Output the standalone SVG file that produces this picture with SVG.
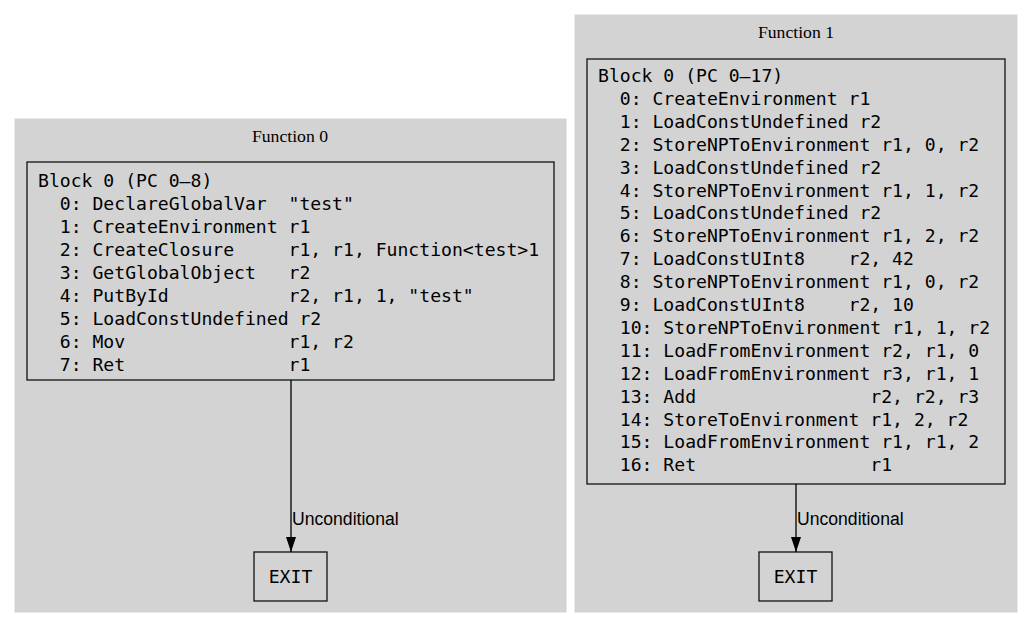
<svg xmlns="http://www.w3.org/2000/svg" width="1032" height="628" viewBox="0 0 1032 628">
<style>
.cluster{fill:#d3d3d3;stroke:#d3d3d3;stroke-width:1}
.box{fill:none;stroke:#111;stroke-width:1.3}
.title{font-family:"Liberation Serif","Times New Roman",serif;font-size:17.7px;fill:#000;text-anchor:middle}
.mono{font-family:"DejaVu Sans Mono",monospace;font-size:18.1px;fill:#000;white-space:pre}
.lbl{font-family:"Liberation Sans",Arial,sans-serif;font-size:17.6px;fill:#000}
.edge{stroke:#000;stroke-width:1.3;fill:none}
</style>
<defs>
<marker id="arrow" markerWidth="15" markerHeight="10" refX="15" refY="5" orient="auto" markerUnits="userSpaceOnUse" viewBox="0 0 15 10">
<polygon points="0,0 15,5 0,10" fill="#000"/>
</marker>
</defs>
<g id="cluster-function0">
<rect class="cluster" x="15" y="119" width="551" height="493"/>
<text class="title" x="290" y="142">Function 0</text>
</g>
<g id="cluster-function1">
<rect class="cluster" x="575" y="15" width="442" height="597"/>
<text class="title" x="796" y="38">Function 1</text>
</g>
<g id="f0-block0">
<rect class="box" x="27" y="162" width="527" height="218"/>
<text class="mono" xml:space="preserve"><tspan x="38" y="187">Block 0 (PC 0–8)</tspan><tspan x="38" y="210">  0: DeclareGlobalVar  "test"</tspan><tspan x="38" y="233">  1: CreateEnvironment r1</tspan><tspan x="38" y="256">  2: CreateClosure     r1, r1, Function&lt;test&gt;1</tspan><tspan x="38" y="279">  3: GetGlobalObject   r2</tspan><tspan x="38" y="302">  4: PutById           r2, r1, 1, "test"</tspan><tspan x="38" y="325">  5: LoadConstUndefined r2</tspan><tspan x="38" y="348">  6: Mov               r1, r2</tspan><tspan x="38" y="371">  7: Ret               r1</tspan></text>
</g>
<g id="f0-exit">
<rect class="box" x="254" y="552" width="73" height="49"/>
<text class="mono" x="290.5" y="583" text-anchor="middle">EXIT</text>
</g>
<g id="f1-block0">
<rect class="box" x="587" y="59" width="418" height="425"/>
<text class="mono" xml:space="preserve"><tspan x="598" y="82">Block 0 (PC 0–17)</tspan><tspan x="598" y="104.9">  0: CreateEnvironment r1</tspan><tspan x="598" y="127.8">  1: LoadConstUndefined r2</tspan><tspan x="598" y="150.7">  2: StoreNPToEnvironment r1, 0, r2</tspan><tspan x="598" y="173.6">  3: LoadConstUndefined r2</tspan><tspan x="598" y="196.5">  4: StoreNPToEnvironment r1, 1, r2</tspan><tspan x="598" y="219.4">  5: LoadConstUndefined r2</tspan><tspan x="598" y="242.3">  6: StoreNPToEnvironment r1, 2, r2</tspan><tspan x="598" y="265.2">  7: LoadConstUInt8    r2, 42</tspan><tspan x="598" y="288.1">  8: StoreNPToEnvironment r1, 0, r2</tspan><tspan x="598" y="311">  9: LoadConstUInt8    r2, 10</tspan><tspan x="598" y="333.9">  10: StoreNPToEnvironment r1, 1, r2</tspan><tspan x="598" y="356.8">  11: LoadFromEnvironment r2, r1, 0</tspan><tspan x="598" y="379.7">  12: LoadFromEnvironment r3, r1, 1</tspan><tspan x="598" y="402.6">  13: Add                r2, r2, r3</tspan><tspan x="598" y="425.5">  14: StoreToEnvironment r1, 2, r2</tspan><tspan x="598" y="448.4">  15: LoadFromEnvironment r1, r1, 2</tspan><tspan x="598" y="471.3">  16: Ret                r1</tspan></text>
</g>
<g id="f1-exit">
<rect class="box" x="759" y="552" width="73" height="49"/>
<text class="mono" x="795.5" y="583" text-anchor="middle">EXIT</text>
</g>
<g id="connectors">
<line class="edge" x1="291" y1="380" x2="291" y2="552" marker-end="url(#arrow)"/>
<text class="lbl" x="292" y="525">Unconditional</text>
<line class="edge" x1="796" y1="484" x2="796" y2="552" marker-end="url(#arrow)"/>
<text class="lbl" x="797" y="525">Unconditional</text>
</g>
</svg>
